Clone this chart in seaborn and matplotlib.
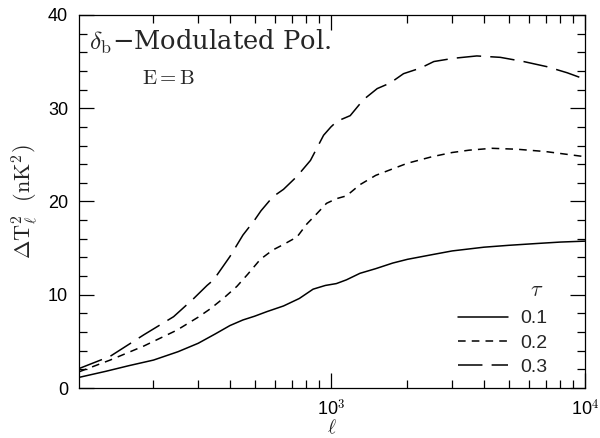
import numpy as np
import pandas as pd
import seaborn as sns
from matplotlib import pyplot as plt
from matplotlib.ticker import FixedLocator, MultipleLocator, NullFormatter

# multipole l and power for each optical depth tau
l_01 = [102, 130, 160, 200, 250, 300, 350, 400, 450, 500, 560, 650, 750, 850, 950,
        1050, 1150, 1300, 1500, 1750, 2000, 2500, 3000, 4000, 5000, 6500, 8000, 10000]
dT_01 = [1.15, 1.8, 2.4, 3.0, 3.9, 4.8, 5.8, 6.7, 7.3, 7.7, 8.2, 8.8, 9.6, 10.6, 11.0,
         11.2, 11.6, 12.3, 12.8, 13.4, 13.8, 14.3, 14.7, 15.1, 15.3, 15.5, 15.65, 15.75]

l_02 = [102, 135, 183, 247, 300, 335, 380, 426, 470, 527, 590, 651, 735, 804, 880,
        960, 1050, 1150, 1300, 1500, 1750, 2000, 2500, 3000, 3500, 4300, 5400, 7000, 10000]
dT_02 = [1.75, 3.0, 4.5, 6.2, 7.6, 8.5, 9.7, 10.9, 12.2, 13.8, 14.8, 15.4, 16.2, 17.6, 18.7,
         19.8, 20.3, 20.6, 21.8, 22.8, 23.5, 24.1, 24.8, 25.25, 25.5, 25.7, 25.6, 25.35, 24.8]

l_03 = [102, 135, 183, 240, 288, 325, 345, 400, 450, 500, 530, 590, 650, 735, 830, 935,
        1000, 1056, 1190, 1340, 1520, 1710, 1930, 2250, 2540, 3040, 3750, 4640, 5730,
        7080, 8500, 10000]
dT_03 = [2.1, 3.4, 5.7, 7.65, 9.6, 11.0, 11.6, 14.1, 16.4, 18.0, 19.0, 20.5, 21.3, 22.7,
         24.4, 27.1, 28.0, 28.6, 29.2, 30.9, 32.1, 32.7, 33.7, 34.3, 35.0, 35.35, 35.6,
         35.45, 35.0, 34.45, 33.8, 33.1]

taus = ["0.1", "0.2", "0.3"]
styles = ["-", (0, (5, 4)), (0, (16, 6))]

sns.set_theme(style="ticks")
plt.rcParams["font.family"] = ["Liberation Sans", "DejaVu Sans"]
plt.rcParams["mathtext.fontset"] = "cm"

fig = plt.figure(figsize=(6, 4.38), dpi=100)
ax = fig.add_axes([0.132, 0.114, 0.843, 0.852])

for xs, ys, tau, ls in zip([l_01, l_02, l_03], [dT_01, dT_02, dT_03], taus, styles):
    df = pd.DataFrame({"l": xs, "dT": ys})
    sns.lineplot(data=df, x="l", y="dT", ax=ax, color="black", lw=1.1,
                 linestyle=ls, label=tau)

ax.set_xscale("log")
ax.set_xlim(102, 10000)
ax.set_ylim(0, 40)

ax.xaxis.set_major_locator(FixedLocator([1000, 10000]))
ax.set_xticklabels([r"10$^{\mathsf{3}}$", r"10$^{\mathsf{4}}$"])
ax.xaxis.set_minor_locator(FixedLocator(list(range(200, 1000, 100)) + list(range(2000, 10000, 1000))))
ax.xaxis.set_minor_formatter(NullFormatter())
ax.yaxis.set_major_locator(MultipleLocator(10))
ax.yaxis.set_minor_locator(MultipleLocator(2))

ax.tick_params(which="both", direction="in", top=True, right=True, colors="black",
               labelsize=13, width=0.9)
ax.tick_params(which="major", length=11, pad=8)
ax.tick_params(which="minor", length=6)
for sp in ax.spines.values():
    sp.set_color("black")
    sp.set_linewidth(0.9)

ax.set_xlabel(r"$\ell$", fontsize=14, labelpad=-1)
ax.set_ylabel(r"$\Delta\mathrm{T}_\ell^2\ \ (\mathrm{nK}^2)$", fontsize=16, labelpad=6)

ax.text(0.02, 0.965, r"$\delta_\mathrm{b}$" + "\u2212Modulated Pol.", transform=ax.transAxes,
        fontsize=18.5, family="DejaVu Serif", va="top", ha="left")
ax.text(0.125, 0.855, r"$\mathrm{E{=}B}$", transform=ax.transAxes, fontsize=15,
        va="top", ha="left")

leg = ax.legend(frameon=False, loc="lower right",
                bbox_to_anchor=(0.96, -0.015), fontsize=14,
                handlelength=2.6, labelspacing=0.35, handletextpad=0.6)
ax.text(0.905, 0.262, r"$\tau$", transform=ax.transAxes, fontsize=16,
        ha="center", va="center")

fig.savefig("out.png", dpi=100)
